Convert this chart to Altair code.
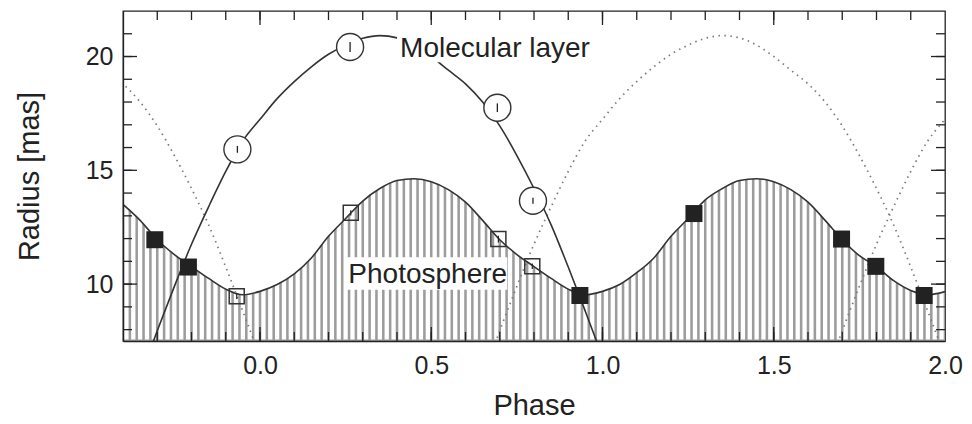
import altair as alt
import pandas as pd

FONT = "Liberation Sans"
INK = "#222222"

# ---------------- data ----------------
# Photosphere radius curve (phase, radius in mas)
photo_phase = [-0.40, -0.35, -0.30, -0.25, -0.20, -0.15, -0.10, -0.05,
               0.00, 0.05, 0.10, 0.15, 0.20, 0.25, 0.30, 0.35, 0.40, 0.45,
               0.50, 0.55, 0.60, 0.65, 0.70, 0.75, 0.80, 0.85, 0.90, 0.95,
               1.00, 1.05, 1.10, 1.15, 1.20, 1.25, 1.30, 1.35, 1.40, 1.45,
               1.50, 1.55, 1.60, 1.65, 1.70, 1.75, 1.80, 1.85, 1.90, 1.95,
               2.00]
photo_r = [13.5, 12.8, 11.95, 11.3, 10.77, 10.25, 9.78, 9.53,
           9.68, 9.98, 10.45, 11.15, 12.1, 12.88, 13.65, 14.2, 14.55, 14.63,
           14.5, 14.15, 13.6, 12.8, 11.95, 11.3, 10.77, 10.25, 9.78, 9.53,
           9.68, 9.98, 10.5, 11.15, 12.1, 12.88, 13.7, 14.2, 14.55, 14.63,
           14.5, 14.15, 13.6, 12.8, 11.95, 11.25, 10.77, 10.15, 9.72, 9.53,
           9.67]

# Molecular layer radius curve (solid), one cycle
mol_phase = [-0.35, -0.30, -0.25, -0.20, -0.15, -0.10, -0.05, 0.00, 0.05,
             0.10, 0.15, 0.20, 0.25, 0.30, 0.35, 0.40, 0.45, 0.50, 0.55,
             0.60, 0.65, 0.70, 0.75, 0.80, 0.85, 0.90, 0.95, 1.00]
mol_r = [5.9, 7.95, 9.9, 11.75, 13.4, 14.95, 16.3, 17.24, 18.15,
         18.9, 19.55, 20.1, 20.5, 20.8, 20.92, 20.82, 20.5, 20.0, 19.4,
         18.8, 18.0, 16.95, 15.65, 14.2, 12.6, 10.75, 8.8, 6.8]
# the same cycle repeated (dotted) one period earlier / later
mol_copy_shifts = [-1, 1, 2]

# Molecular layer measurements (open circles)
circ_phase = [-0.066, 0.263, 0.693, 0.797]
circ_r = [15.92, 20.42, 17.75, 13.66]
circ_err = [0.15, 0.22, 0.19, 0.13]

# Photosphere measurements (open squares)
osq_phase = [-0.068, 0.265, 0.696, 0.795]
osq_r = [9.47, 13.13, 11.98, 10.78]
osq_err = [0.12, 0.12, 0.15, 0.12]

# Photosphere measurements repeated (filled squares)
fsq_phase = [-0.307, -0.209, 0.934, 1.267, 1.698, 1.798, 1.939]
fsq_r = [11.95, 10.75, 9.50, 13.10, 11.98, 10.78, 9.50]
fsq_err = [0.2, 0.2, 0.2, 0.2, 0.2, 0.2, 0.2]

# annotations
label_text = ["Molecular layer", "Photosphere"]
label_phase = [0.409, 0.258]
label_r = [20.0, 10.07]
box_phase0 = [0.400, 0.252]
box_phase1 = [0.985, 0.722]
box_r0 = [19.75, 9.75]
box_r1 = [21.3, 11.18]

x_ticks = [0.0, 0.5, 1.0, 1.5, 2.0]
y_ticks = [10, 15, 20]
x_major = [0.0, 0.5, 1.0, 1.5]
y_major = [10, 15, 20]

X_DOMAIN = [-0.4, 2.0]
Y_DOMAIN = [7.5, 22.0]
W, H = 822, 330

# ---------------- tables ----------------
photo = pd.DataFrame({"phase": photo_phase, "r": photo_r})
mol = pd.DataFrame({"phase": mol_phase, "r": mol_r})
mol_copies = pd.concat(
    [mol.assign(phase=mol["phase"] + s, copy=str(s)) for s in mol_copy_shifts],
    ignore_index=True)
circ = pd.DataFrame({"phase": circ_phase, "r": circ_r, "err": circ_err})
osq = pd.DataFrame({"phase": osq_phase, "r": osq_r, "err": osq_err})
fsq = pd.DataFrame({"phase": fsq_phase, "r": fsq_r, "err": fsq_err})
for d in (circ, osq, fsq):
    d["lo"] = d["r"] - d["err"]
    d["hi"] = d["r"] + d["err"]
labels = pd.DataFrame({"text": label_text, "phase": label_phase, "r": label_r})
boxes = pd.DataFrame({"phase": box_phase0, "p1": box_phase1, "r": box_r0, "r1": box_r1})

xs = alt.Scale(domain=X_DOMAIN, nice=False, zero=False)
ys = alt.Scale(domain=Y_DOMAIN, nice=False, zero=False)

x_axis = alt.Axis(values=x_ticks, format=".1f", title="Phase", ticks=False, tickSize=0,
                  grid=False, domain=True, domainColor=INK, domainWidth=1.3,
                  labelFont=FONT, labelFontSize=25, labelColor=INK, labelPadding=12,
                  labelFlush=False, labelOverlap=False,
                  titleFont=FONT, titleFontSize=29, titleFontWeight="normal",
                  titleColor=INK, titleY=64, titleBaseline="middle", zindex=1)
y_axis = alt.Axis(values=y_ticks, format="d", title="Radius [mas]", ticks=False, tickSize=0,
                  grid=False, domain=True, domainColor=INK, domainWidth=1.3,
                  labelFont=FONT, labelFontSize=25, labelColor=INK, labelPadding=10,
                  labelFlush=False, labelOverlap=False,
                  titleFont=FONT, titleFontSize=29, titleFontWeight="normal",
                  titleColor=INK, titleX=-94, titleY=H / 2, titleBaseline="middle",
                  titleAlign="center", zindex=1)


def X(field="phase"):
    return alt.X(f"{field}:Q", scale=xs, axis=x_axis)


def Y(field="r"):
    return alt.Y(f"{field}:Q", scale=ys, axis=y_axis)


# hatched area under the photosphere: grey fill cut into stripes by white rules
area = alt.Chart(photo).mark_area(color="#9c9c9c", interpolate="monotone", clip=True).encode(
    x=X(), y=Y(), y2=alt.value(H))
stripes = alt.Chart(alt.sequence(-0.39, 2.0, 0.02, as_="phase")).mark_rule(
    color="white", strokeWidth=4.3).encode(x=X(), y=alt.value(H - 1.5), y2=alt.value(140))

photo_line = alt.Chart(photo).mark_line(color="#333333", strokeWidth=1.6,
                                        interpolate="monotone", clip=True).encode(x=X(), y=Y())
mol_dotted = alt.Chart(mol_copies).mark_line(color="#7a7a7a", strokeWidth=1.7, strokeDash=[1.5, 4.5],
                                             interpolate="monotone", clip=True).encode(
    x=X(), y=Y(), detail="copy:N")
mol_line = alt.Chart(mol).mark_line(color="#333333", strokeWidth=1.6,
                                    interpolate="monotone", clip=True).encode(x=X(), y=Y())

box_marks = alt.Chart(boxes).mark_rect(color="white").encode(
    x=X(), x2="p1:Q", y=Y(), y2="r1:Q")
text_marks = alt.Chart(labels).mark_text(align="left", baseline="alphabetic", font=FONT,
                                         fontSize=28, color=INK).encode(
    x=X(), y=Y(), text="text:N")

osq_err_m = alt.Chart(osq).mark_rule(color=INK, strokeWidth=1.2).encode(x=X(), y=Y("lo"), y2="hi:Q")
fsq_err_m = alt.Chart(fsq).mark_rule(color=INK, strokeWidth=1.2).encode(x=X(), y=Y("lo"), y2="hi:Q")
osq_m = alt.Chart(osq).mark_point(shape="square", size=225, filled=False, color="#333333",
                                  strokeWidth=1.5, opacity=1).encode(x=X(), y=Y())
fsq_m = alt.Chart(fsq).mark_point(shape="square", size=289, filled=True, color=INK,
                                  opacity=1).encode(x=X(), y=Y())
circ_m = alt.Chart(circ).mark_point(shape="circle", size=729, filled=True, fill="white",
                                    stroke="#333333", strokeWidth=1.4, opacity=1).encode(x=X(), y=Y())
circ_err_m = alt.Chart(circ).mark_rule(color=INK, strokeWidth=1.3).encode(x=X(), y=Y("lo"), y2="hi:Q")

# inward ticks on all four sides
tk = dict(color=INK, strokeWidth=1.3)
xminor = alt.sequence(-0.3, 1.95, 0.1, as_="phase")
yminor = alt.sequence(8, 22, 1, as_="r")
xmaj = pd.DataFrame({"phase": x_major})
ymaj = pd.DataFrame({"r": y_major})
ticks = [
    alt.Chart(xminor).mark_rule(**tk).encode(x=X(), y=alt.value(H), y2=alt.value(H - 9)),
    alt.Chart(xminor).mark_rule(**tk).encode(x=X(), y=alt.value(0), y2=alt.value(9)),
    alt.Chart(xmaj).mark_rule(**tk).encode(x=X(), y=alt.value(H), y2=alt.value(H - 14)),
    alt.Chart(xmaj).mark_rule(**tk).encode(x=X(), y=alt.value(0), y2=alt.value(14)),
    alt.Chart(yminor).mark_rule(**tk).encode(y=Y(), x=alt.value(0), x2=alt.value(9)),
    alt.Chart(yminor).mark_rule(**tk).encode(y=Y(), x=alt.value(W), x2=alt.value(W - 9)),
    alt.Chart(ymaj).mark_rule(**tk).encode(y=Y(), x=alt.value(0), x2=alt.value(14)),
    alt.Chart(ymaj).mark_rule(**tk).encode(y=Y(), x=alt.value(W), x2=alt.value(W - 14)),
]

chart = alt.layer(
    area, stripes, photo_line, mol_dotted, mol_line, box_marks, text_marks,
    osq_err_m, fsq_err_m, osq_m, fsq_m, circ_m, circ_err_m, *ticks
).properties(
    width=W, height=H,
    autosize=alt.AutoSizeParams(type="none"),
    padding={"left": 123, "top": 11, "right": 972 - 123 - W, "bottom": 424 - 11 - H},
    background="white",
).configure_view(stroke=INK, strokeWidth=1.3)

chart.save("out.html", embed_options={"renderer": "svg", "actions": False})
